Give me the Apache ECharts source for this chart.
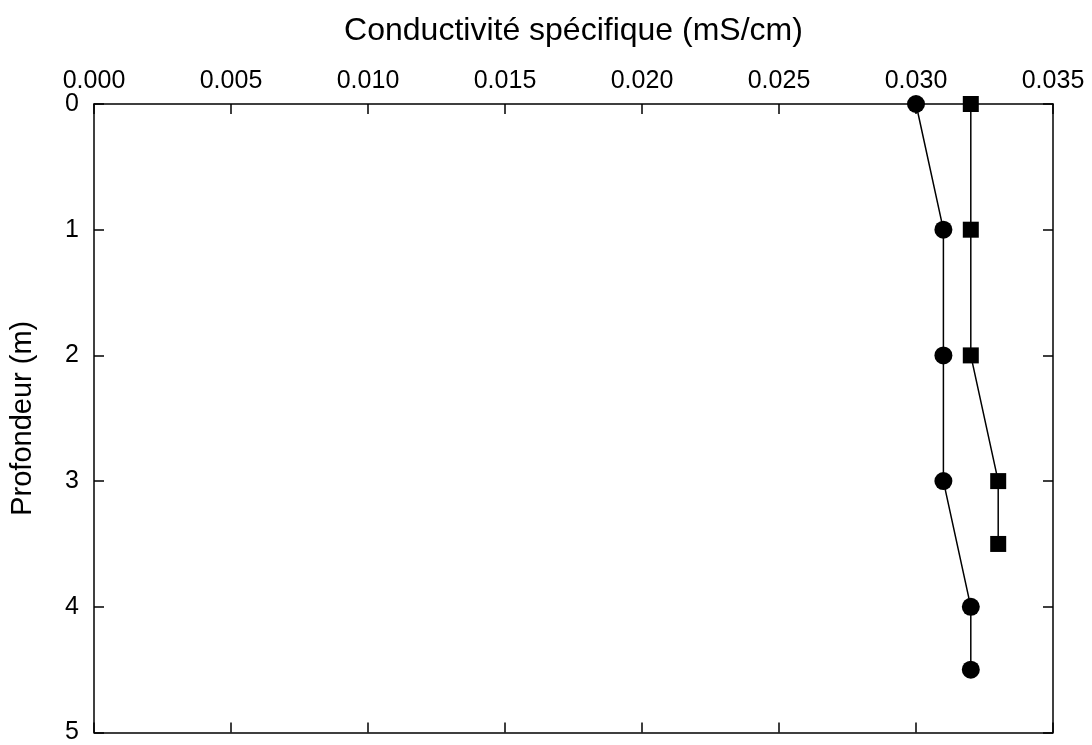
<!DOCTYPE html>
<html><head><meta charset="utf-8">
<script src="https://cdn.jsdelivr.net/npm/echarts@6/dist/echarts.min.js"></script>
<style>html,body{margin:0;padding:0;background:#fff}#c{width:1092px;height:745px}</style>
</head><body><div id="c"></div>
<script>
const xTitle = 'Conductivité spécifique (mS/cm)';
const yTitle = 'Profondeur (m)';
const circleDepth = [0, 1, 2, 3, 4, 4.5];
const circleValue = [0.030, 0.031, 0.031, 0.031, 0.032, 0.032];
const squareDepth = [0, 1, 2, 3, 3.5];
const squareValue = [0.032, 0.032, 0.032, 0.033, 0.033];

const font = 'Liberation Sans, Arial, sans-serif';
const chart = echarts.init(document.getElementById('c'));
const axisLine = {show: true, onZero: false, lineStyle: {color: '#000', width: 1.5}};
const tick = {show: true, inside: true, length: 10, lineStyle: {color: '#000', width: 1.5}};
chart.setOption({
  animation: false,
  grid: {left: 94, right: 39, top: 104, bottom: 12},
  xAxis: [{
    type: 'value', position: 'top', min: 0, max: 0.035, interval: 0.005,
    name: xTitle, nameLocation: 'middle', nameGap: 57,
    nameTextStyle: {fontFamily: font, fontSize: 32, color: '#000'},
    axisLine, axisTick: tick, splitLine: {show: false},
    axisLabel: {fontFamily: font, fontSize: 25, color: '#000', margin: 10, formatter: v => v.toFixed(3)}
  }, {
    type: 'value', position: 'bottom', min: 0, max: 0.035, interval: 0.005,
    axisLine, axisTick: tick, splitLine: {show: false}, axisLabel: {show: false}
  }],
  yAxis: [{
    type: 'value', inverse: true, position: 'left', min: 0, max: 5, interval: 1,
    name: yTitle, nameLocation: 'middle', nameGap: 57,
    nameTextStyle: {fontFamily: font, fontSize: 29, color: '#000'},
    axisLine, axisTick: tick, splitLine: {show: false},
    axisLabel: {fontFamily: font, fontSize: 25, color: '#000', margin: 15}
  }, {
    type: 'value', inverse: true, position: 'right', min: 0, max: 5, interval: 1,
    axisLine, axisTick: tick, splitLine: {show: false}, axisLabel: {show: false}
  }],
  series: [{
    type: 'line', symbol: 'circle', symbolSize: 18,
    data: circleValue.map((v, i) => [v, circleDepth[i]]),
    itemStyle: {color: '#000'}, lineStyle: {color: '#000', width: 1.5}
  }, {
    type: 'line', symbol: 'rect', symbolSize: 16,
    data: squareValue.map((v, i) => [v, squareDepth[i]]),
    itemStyle: {color: '#000'}, lineStyle: {color: '#000', width: 1.5}
  }]
});
</script></body></html>
